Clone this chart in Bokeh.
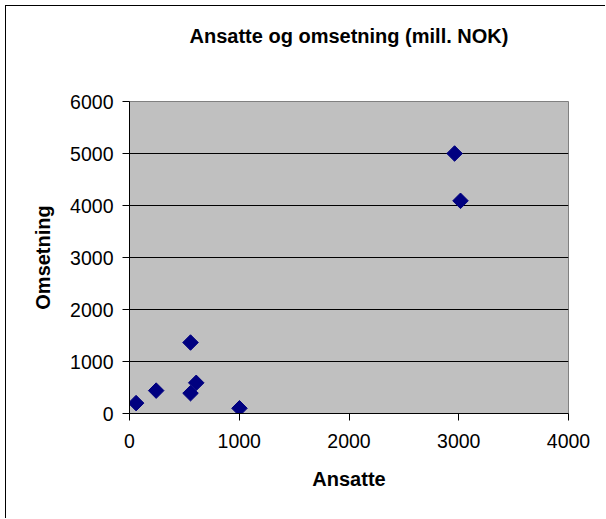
import math
from bokeh.plotting import figure
from bokeh.models import ColumnDataSource, Range1d, FixedTicker, LinearAxis
from bokeh.embed import file_html
from bokeh.resources import INLINE

# Data
ansatte = [60, 243, 556, 556, 608, 1002, 2962, 3016]
omsetning = [200, 440, 1365, 390, 590, 100, 5000, 4090]
x_ticks = [0, 1000, 2000, 3000, 4000]
y_ticks = [0, 1000, 2000, 3000, 4000, 5000, 6000]
title_text = "Ansatte og omsetning (mill. NOK)"
x_title = "Ansatte"
y_title = "Omsetning"

FONT = "Liberation Sans"
OFF = 6  # outer chart border offset (margin + border width)

p = figure(width=606 - OFF, height=519 - OFF, output_backend="svg", toolbar_location=None,
           x_range=Range1d(0, 4000), y_range=Range1d(0, 6000),
           min_border_left=129 - OFF, min_border_right=38, min_border_top=101 - OFF,
           min_border_bottom=106)
p.styles = {"margin-left": "5px", "margin-top": "5px",
            "border-left": "1px solid black", "border-top": "1px solid black"}
p.background_fill_color = "#C0C0C0"
p.border_fill_color = "white"
p.outline_line_color = "#808080"
p.outline_line_width = 1

xa = p.below[0]
ya = p.left[0]

for ax in (xa, ya):
    ax.axis_line_color = "black"
    ax.axis_line_width = 1
    ax.major_tick_line_color = "black"
    ax.major_tick_out = 7
    ax.major_tick_in = 0
    ax.minor_tick_line_color = None
    ax.major_label_text_font = FONT
    ax.major_label_text_font_size = "19.5px"
    ax.major_label_text_color = "black"
    ax.axis_label_text_font = FONT
    ax.axis_label_text_font_size = "20px"
    ax.axis_label_text_font_style = "bold"
    ax.axis_label_text_color = "black"

xa.axis_label = x_title
ya.axis_label = y_title
xa.axis_label_standoff = 17
ya.axis_label_standoff = 13

xa.ticker = FixedTicker(ticks=x_ticks)
ya.ticker = FixedTicker(ticks=y_ticks)
xa.major_label_standoff = 13
ya.major_label_standoff = 9

# Chart title drawn as the label of an otherwise empty top axis
top = LinearAxis(ticker=FixedTicker(ticks=[]), axis_label=title_text)
top.axis_line_color = None
top.major_tick_line_color = None
top.minor_tick_line_color = None
top.major_tick_out = 0
top.major_tick_in = 0
top.major_label_standoff = 0
top.axis_label_text_font = FONT
top.axis_label_text_font_size = "20px"
top.axis_label_text_font_style = "bold"
top.axis_label_text_color = "black"
top.axis_label_standoff = 55
p.add_layout(top, "above")

p.xgrid.grid_line_color = None
p.ygrid.grid_line_color = "black"
p.ygrid.grid_line_width = 1
p.ygrid.ticker = FixedTicker(ticks=y_ticks)

src = ColumnDataSource(dict(x=ansatte, y=omsetning))
p.scatter("x", "y", source=src, marker="square", size=11, angle=math.pi / 4,
          fill_color="#000080", line_color="#000080")

open("out.html", "w").write(file_html(p, INLINE))
